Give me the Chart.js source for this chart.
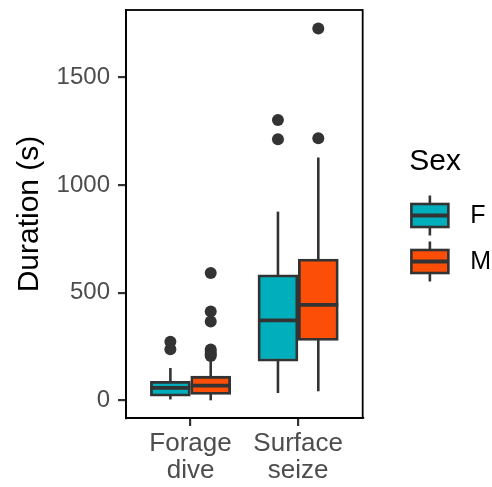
<!DOCTYPE html>
<html>
<head>
<meta charset="utf-8">
<script src="https://cdn.jsdelivr.net/npm/chart.js@4"></script>
<style>
  html, body { margin: 0; padding: 0; background: #fff; }
  canvas { display: block; }
</style>
</head>
<body>
<canvas id="chart" width="492" height="487"></canvas>
<script>
// ============================
// Data
// ============================

const categories = [['Forage', 'dive'], ['Surface', 'seize']];
const sexes = ['F', 'M'];
const sexColors = ['#00AFBB', '#FC4E07'];
const yTicks = [0, 500, 1000, 1500];

// F
const lowF  = [5, 35];
const q1F   = [20, 182];
const medF  = [59, 372];
const q3F   = [89, 583];
const highF = [151, 876];
const outF  = [[273, 238], [1301, 1212]];

// M
const lowM  = [1, 43];
const q1M   = [28, 279];
const medM  = [69, 444];
const q3M   = [113, 656];
const highM = [182, 1127];
const outM  = [[591, 413, 367, 237, 225, 215, 207], [1725, 1216]];

// ============================
// Helpers
// ============================

const dodge = 0.1875; // half of a box width, in category units
const posF = categories.map((c, i) => i + 1 - dodge);
const posM = categories.map((c, i) => i + 1 + dodge);

const stats = [
  { pos: posF, low: lowF, med: medF, high: highF },
  { pos: posM, low: lowM, med: medM, high: highM }
];

function boxData(pos, q1, q3) {
  return pos.map((x, i) => ({ x: x, y: [q1[i], q3[i]] }));
}

function outData(pos, out) {
  const pts = [];
  out.forEach((vals, i) => vals.forEach(v => pts.push({ x: pos[i], y: v })));
  return pts;
}

const dark = '#333333';
const legendBoxW = 67.5;

// whiskers, medians, panel border, legend keys
const boxplotPlugin = {
  id: 'boxplot',
  beforeDatasetsDraw(chart) {
    const { ctx, scales: { x, y } } = chart;
    ctx.save();
    ctx.strokeStyle = dark;
    ctx.lineWidth = 2.6;
    stats.forEach(s => s.pos.forEach((p, i) => {
      const px = x.getPixelForValue(p);
      ctx.beginPath();
      ctx.moveTo(px, y.getPixelForValue(s.low[i]));
      ctx.lineTo(px, y.getPixelForValue(s.high[i]));
      ctx.stroke();
    }));
    ctx.restore();
  },
  afterDatasetsDraw(chart) {
    const { ctx, scales: { y }, chartArea } = chart;
    ctx.save();
    ctx.strokeStyle = dark;
    ctx.lineWidth = 3.8;
    stats.forEach((s, k) => {
      const meta = chart.getDatasetMeta(k);
      meta.data.forEach((bar, i) => {
        const py = y.getPixelForValue(s.med[i]);
        ctx.beginPath();
        ctx.moveTo(bar.x - bar.width / 2, py);
        ctx.lineTo(bar.x + bar.width / 2, py);
        ctx.stroke();
      });
    });
    // panel border
    ctx.strokeStyle = '#000';
    ctx.lineWidth = 1.8;
    ctx.strokeRect(chartArea.left, chartArea.top, chartArea.right - chartArea.left, chartArea.bottom - chartArea.top);
    ctx.restore();
  },
  afterDraw(chart) {
    const ctx = chart.ctx;
    const boxes = chart.legend.legendHitBoxes;
    ctx.save();
    boxes.forEach((hb, i) => {
      const right = hb.left + legendBoxW - 9.3;
      const left = right - 37;
      const cx = (left + right) / 2;
      const cy = hb.top + hb.height / 2 - 1;
      ctx.strokeStyle = dark;
      ctx.lineWidth = 2.6;
      ctx.beginPath();
      ctx.moveTo(cx, cy - 20);
      ctx.lineTo(cx, cy + 20);
      ctx.stroke();
      ctx.fillStyle = sexColors[i];
      ctx.fillRect(left, cy - 11.5, 37, 23);
      ctx.strokeRect(left, cy - 11.5, 37, 23);
      ctx.lineWidth = 3.8;
      ctx.beginPath();
      ctx.moveTo(left, cy);
      ctx.lineTo(right, cy);
      ctx.stroke();
    });
    ctx.restore();
  }
};

function noPad(s) {
  s.paddingTop = 0;
  s.paddingBottom = 0;
}

// ============================
// Chart
// ============================

Chart.defaults.font.family = "'Liberation Sans', Arial, sans-serif";

const ctx = document.getElementById('chart').getContext('2d');

new Chart(ctx, {
  type: 'bar',
  data: {
    datasets: [
      {
        label: sexes[0],
        data: boxData(posF, q1F, q3F),
        backgroundColor: sexColors[0],
        order: 2
      },
      {
        label: sexes[1],
        data: boxData(posM, q1M, q3M),
        backgroundColor: sexColors[1],
        order: 2
      },
      {
        type: 'scatter',
        label: 'outF',
        data: outData(posF, outF),
        order: 1
      },
      {
        type: 'scatter',
        label: 'outM',
        data: outData(posM, outM),
        order: 1
      }
    ]
  },
  options: {
    responsive: false,
    animation: false,
    events: [],
    layout: { padding: { top: 10, right: -9, bottom: 0, left: 0 } },
    datasets: {
      bar: {
        grouped: false,
        barThickness: 40,
        borderColor: dark,
        borderWidth: 2.8,
        borderSkipped: false
      },
      scatter: {
        pointRadius: 6,
        pointBackgroundColor: dark,
        pointBorderWidth: 0,
        showLine: false
      }
    },
    scales: {
      x: {
        type: 'linear',
        min: 0.4,
        max: 2.6,
        offset: false,
        afterBuildTicks: s => { s.ticks = categories.map((c, i) => ({ value: i + 1 })); },
        afterFit: s => { s.height = 69; s.paddingLeft = 0; s.paddingRight = 0; },
        grid: { display: true, offset: false, drawOnChartArea: false, drawTicks: true, tickLength: 8, color: dark, lineWidth: 2.2 },
        border: { display: true, color: '#000', width: 1.8 },
        ticks: {
          color: '#4D4D4D',
          font: { size: 26, lineHeight: 1.05 },
          padding: 4,
          maxRotation: 0,
          autoSkip: false,
          callback: v => categories[v - 1]
        }
      },
      y: {
        min: -81,
        max: 1811,
        afterBuildTicks: s => { s.ticks = yTicks.map(v => ({ value: v })); },
        afterFit: s => { s.width = 126; noPad(s); },
        grid: { display: true, drawOnChartArea: false, drawTicks: true, tickLength: 8, color: dark, lineWidth: 2.2 },
        border: { display: true, color: '#000', width: 1.8 },
        ticks: { color: '#4D4D4D', font: { size: 24 }, padding: 8, callback: v => String(v) },
        title: {
          display: true,
          text: 'Duration (s)',
          color: '#000',
          font: { size: 30 },
          padding: { top: 12, bottom: 0 }
        }
      },
      y2: {
        type: 'linear',
        position: 'right',
        display: true,
        grid: { display: false },
        ticks: { display: false },
        border: { display: false },
        afterFit: s => { s.width = 6.5; noPad(s); }
      }
    },
    plugins: {
      tooltip: { enabled: false },
      legend: {
        position: 'right',
        align: 'start',
        maxWidth: 200,
        title: {
          display: true,
          text: 'Sex',
          color: '#000',
          font: { size: 30 },
          padding: { top: 137, bottom: 0 }
        },
        labels: {
          boxWidth: legendBoxW,
          boxHeight: 23,
          padding: 21,
          color: '#000',
          font: { size: 25 },
          generateLabels: () => sexes.map((s, i) => ({
            text: s,
            fillStyle: 'rgba(0,0,0,0)',
            strokeStyle: 'rgba(0,0,0,0)',
            lineWidth: 0,
            fontColor: '#000',
            datasetIndex: i
          }))
        }
      }
    }
  },
  plugins: [boxplotPlugin]
});
</script>
</body>
</html>
